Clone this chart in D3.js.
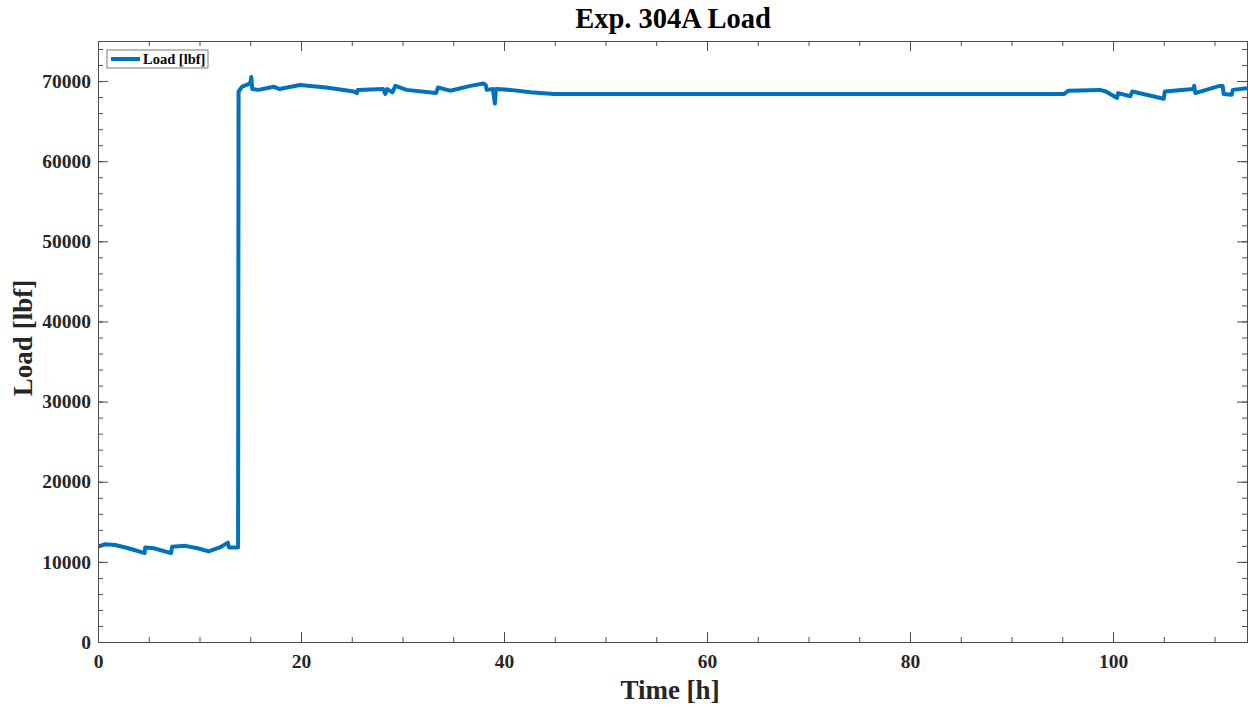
<!DOCTYPE html>
<html>
<head>
<meta charset="utf-8">
<script src="https://d3js.org/d3.v7.min.js"></script>
<style>
  body { margin: 0; background: #fff; }
  svg { display: block; }
  text { font-family: "Liberation Serif", "Times New Roman", serif; font-weight: bold; }
</style>
</head>
<body>
<svg id="chart" width="1248" height="707"></svg>
<script>
// ---- data ----
const titleText = "Exp. 304A Load";
const xLabel = "Time [h]";
const yLabel = "Load [lbf]";
const seriesName = "Load [lbf]";

const timeH = [0, 0.7, 1.7, 3.0, 4.6, 4.65, 5.5, 7.2, 7.3, 8.6, 9.8, 10.9, 12.0, 12.8, 12.9, 13.7, 13.8, 13.85,
  14.2, 15.0, 15.1, 15.2, 15.8, 17.3, 17.9, 19.9, 22.5, 25.2, 25.5, 25.6, 28.1, 28.3, 28.5, 29.0, 29.3, 30.4,
  33.3, 33.5, 34.7, 36.7, 38.0, 38.2, 38.3, 38.9, 39.1, 39.2, 40.6, 42.6, 44.9, 95.2, 95.6, 98.7, 99.3,
  100.4, 100.5, 101.7, 101.9, 105.0, 105.1, 107.9, 108.0, 108.1, 110.5, 110.8, 110.9, 111.7, 111.8, 113.2];
const loadLbf = [11900, 12200, 12100, 11700, 11100, 11800, 11700, 11100, 11900, 12000, 11700, 11300, 11800, 12400, 11800, 11800, 11800, 68700,
  69300, 69700, 70500, 69000, 68900, 69300, 69000, 69500, 69200, 68700, 68500, 68900, 69000, 68400, 69000, 68600, 69400, 68900,
  68500, 69200, 68800, 69400, 69700, 69500, 68900, 69000, 67200, 69000, 68900, 68600, 68400, 68400, 68800, 68900, 68700,
  67900, 68500, 68100, 68700, 67800, 68700, 69000, 69400, 68500, 69400, 69400, 68400, 68300, 68900, 69100];

const xDomain = [0, 113.2];
const yDomain = [0, 75000];
const xMajorTicks = [0, 20, 40, 60, 80, 100];
const yMajorTicks = [0, 10000, 20000, 30000, 40000, 50000, 60000, 70000];
const xMinorStep = 5;
const yMinorStep = 2000;

// ---- layout ----
const svg = d3.select("#chart");
const L = 98, R = 1247, T = 41, B = 642;
const axisColor = "#4d4d4d";
const lineColor = "#0072BD";

const x = d3.scaleLinear().domain(xDomain).range([L, R]);
const y = d3.scaleLinear().domain(yDomain).range([B, T]);

const xMinor = d3.range(xDomain[0], xDomain[1] + 1e-9, xMinorStep);
const yMinor = d3.range(yDomain[0], yDomain[1] + 1e-9, yMinorStep);

// Data line (clipped)
svg.append("clipPath").attr("id", "clip").append("rect")
  .attr("x", L).attr("y", T).attr("width", R - L).attr("height", B - T);

const data = timeH.map((t, i) => [t, loadLbf[i]]);
svg.append("path")
  .datum(data)
  .attr("clip-path", "url(#clip)")
  .attr("fill", "none")
  .attr("stroke", lineColor)
  .attr("stroke-width", 4)
  .attr("stroke-linejoin", "round")
  .attr("d", d3.line().x(d => x(d[0])).y(d => y(d[1])));

// Axes with inward ticks, mirrored on top / right
const majorLen = 10, minorLen = 5;

function addAxis(axisGen, transform) {
  const a = svg.append("g").attr("transform", transform).call(axisGen);
  a.select(".domain").attr("stroke", axisColor);
  a.selectAll(".tick line").attr("stroke", axisColor);
  return a;
}

// bottom: minor then major
addAxis(d3.axisBottom(x).tickValues(xMinor).tickSize(-minorLen).tickFormat(""), `translate(0,${B})`);
const xa = addAxis(d3.axisBottom(x).tickValues(xMajorTicks).tickSize(-majorLen).tickPadding(12).tickFormat(d3.format("d")), `translate(0,${B})`);
xa.selectAll("text").attr("font-size", 19.5).attr("fill", "#262626")
  .style("font-family", '"Liberation Serif", serif').style("font-weight", "bold");

// top
addAxis(d3.axisTop(x).tickValues(xMinor).tickSize(-minorLen).tickFormat(""), `translate(0,${T})`);
addAxis(d3.axisTop(x).tickValues(xMajorTicks).tickSize(-majorLen).tickFormat(""), `translate(0,${T})`);

// left
addAxis(d3.axisLeft(y).tickValues(yMinor).tickSize(-minorLen).tickFormat(""), `translate(${L},0)`);
const ya = addAxis(d3.axisLeft(y).tickValues(yMajorTicks).tickSize(-majorLen).tickPadding(7).tickFormat(d3.format("d")), `translate(${L},0)`);
ya.selectAll("text").attr("font-size", 19.5).attr("fill", "#262626")
  .style("font-family", '"Liberation Serif", serif').style("font-weight", "bold");

// right
addAxis(d3.axisRight(y).tickValues(yMinor).tickSize(-minorLen).tickFormat(""), `translate(${R},0)`);
addAxis(d3.axisRight(y).tickValues(yMajorTicks).tickSize(-majorLen).tickFormat(""), `translate(${R},0)`);

// Title & labels
svg.append("text").attr("x", 673).attr("y", 28).attr("text-anchor", "middle")
  .attr("font-size", 28.5).attr("fill", "#000").text(titleText);
svg.append("text").attr("x", 670).attr("y", 699).attr("text-anchor", "middle")
  .attr("font-size", 27).attr("fill", "#262626").text(xLabel);
svg.append("text").attr("transform", `translate(32,338) rotate(-90)`).attr("text-anchor", "middle")
  .attr("font-size", 27).attr("fill", "#262626").text(yLabel);

// Legend
const lg = svg.append("g");
lg.append("rect").attr("x", 107).attr("y", 50).attr("width", 101).attr("height", 18)
  .attr("fill", "#fff").attr("stroke", "#5a5a5a").attr("stroke-width", 0.8);
lg.append("line").attr("x1", 111).attr("x2", 140).attr("y1", 59).attr("y2", 59)
  .attr("stroke", lineColor).attr("stroke-width", 4);
lg.append("text").attr("x", 143).attr("y", 64).attr("font-size", 14.5).attr("fill", "#000").text(seriesName);
</script>
</body>
</html>
